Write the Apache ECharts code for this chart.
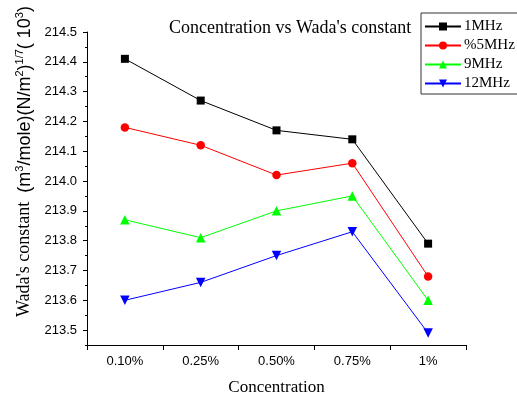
<!DOCTYPE html>
<html>
<head>
<meta charset="utf-8">
<script src="https://cdn.jsdelivr.net/npm/echarts@6/dist/echarts.min.js"></script>
<style>
  html, body { margin: 0; padding: 0; background: #fff; }
  #chart { width: 517px; height: 394px; }
</style>
</head>
<body>
<div id="chart"></div>
<script>
// Concentrations along the x axis
const categories = ['0.10%', '0.25%', '0.50%', '0.75%', '1%'];

// Wada's constant (x10^3) per frequency
const mhz1 = [214.41, 214.27, 214.17, 214.14, 213.79];
const mhz5 = [214.18, 214.12, 214.02, 214.06, 213.68];
const mhz9 = [213.87, 213.81, 213.90, 213.95, 213.60];
const mhz12 = [213.60, 213.66, 213.75, 213.83, 213.49];

// Labelled y ticks and the minor ticks between them
const yTicks = [213.5, 213.6, 213.7, 213.8, 213.9, 214.0, 214.1, 214.2, 214.3, 214.4, 214.5];
const yMinorTicks = [213.45, 213.55, 213.65, 213.75, 213.85, 213.95, 214.05, 214.15, 214.25, 214.35, 214.45];

const serif = 'Liberation Serif';
const sans = 'Liberation Sans';

const chart = echarts.init(document.getElementById('chart'), null, { renderer: 'canvas' });

function line(name, data, color, symbol, size) {
  return {
    name: name,
    type: 'line',
    data: data,
    yAxisIndex: 0,
    symbol: symbol,
    symbolSize: size,
    showAllSymbol: true,
    lineStyle: { color: color, width: 1 },
    itemStyle: { color: color },
    emphasis: { disabled: true },
    animation: false
  };
}

const yMin = 213.45, yMax = 214.5;

chart.setOption({
  backgroundColor: '#fff',
  animation: false,
  title: {
    text: "Concentration vs Wada's constant",
    left: 164,
    top: 14,
    textStyle: { fontFamily: serif, fontSize: 18, fontWeight: 'normal', color: '#000' }
  },
  legend: {
    orient: 'vertical',
    left: 421,
    top: 13,
    padding: [6, 6, 3, 3],
    itemGap: 4,
    itemWidth: 36,
    itemHeight: 10,
    borderColor: '#333',
    borderWidth: 1,
    textStyle: { fontFamily: serif, fontSize: 15, color: '#000', padding: [0, 0, 0, -2] },
    data: ['1MHz', '%5MHz', '9MHz', '12MHz']
  },
  grid: { left: 87, right: 51, top: 32, bottom: 49, containLabel: false, outerBoundsMode: 'none' },
  xAxis: {
    type: 'category',
    data: categories,
    boundaryGap: true,
    name: 'Concentration',
    nameLocation: 'middle',
    nameGap: 34,
    nameTextStyle: { fontFamily: serif, fontSize: 17, color: '#000' },
    axisLine: { lineStyle: { color: '#000', width: 1 } },
    axisTick: { show: true, length: 5, inside: false, lineStyle: { color: '#000' } },
    axisLabel: { fontFamily: sans, fontSize: 13, color: '#000', margin: 10 },
    splitLine: { show: false }
  },
  yAxis: [
    {
      type: 'value',
      min: yMin,
      max: yMax,
      name: "{a|Wada's constant  }{b|(m}{s|3}{b|/mole)(N/m}{s|2}{b|)}{s|1/7}{b|( 10}{s|3}{b|)}",
      nameLocation: 'middle',
      nameRotate: 90,
      nameGap: 51,
      nameTextStyle: {
        color: '#000',
        fontFamily: serif,
        padding: [0, 0, 0, 54],
        rich: {
          a: { fontFamily: serif, fontSize: 18, lineHeight: 21, color: '#000' },
          b: { fontFamily: sans, fontSize: 18, lineHeight: 21, color: '#000' },
          s: { fontFamily: sans, fontSize: 11, lineHeight: 12, verticalAlign: 'top', color: '#000' }
        }
      },
      axisLine: { show: true, lineStyle: { color: '#000', width: 1 } },
      axisTick: { show: true, length: 4, inside: false, customValues: yTicks, lineStyle: { color: '#000' } },
      axisLabel: {
        fontFamily: sans, fontSize: 13, color: '#000', margin: 10,
        customValues: yTicks,
        formatter: v => v.toFixed(1)
      },
      splitLine: { show: false }
    },
    {
      type: 'value',
      min: yMin,
      max: yMax,
      position: 'left',
      axisLine: { show: false },
      axisTick: { show: true, length: 2, inside: false, customValues: yMinorTicks, lineStyle: { color: '#000' } },
      axisLabel: { show: false },
      splitLine: { show: false }
    }
  ],
  series: [
    line('1MHz', mhz1, '#000000', 'rect', 8),
    line('%5MHz', mhz5, '#ff0000', 'circle', 8.5),
    line('9MHz', mhz9, '#00ff00', 'triangle', 9.5),
    line('12MHz', mhz12, '#0000ff', 'path://M0,0 L10,0 L5,9 Z', 9.5)
  ]
});
</script>
</body>
</html>
